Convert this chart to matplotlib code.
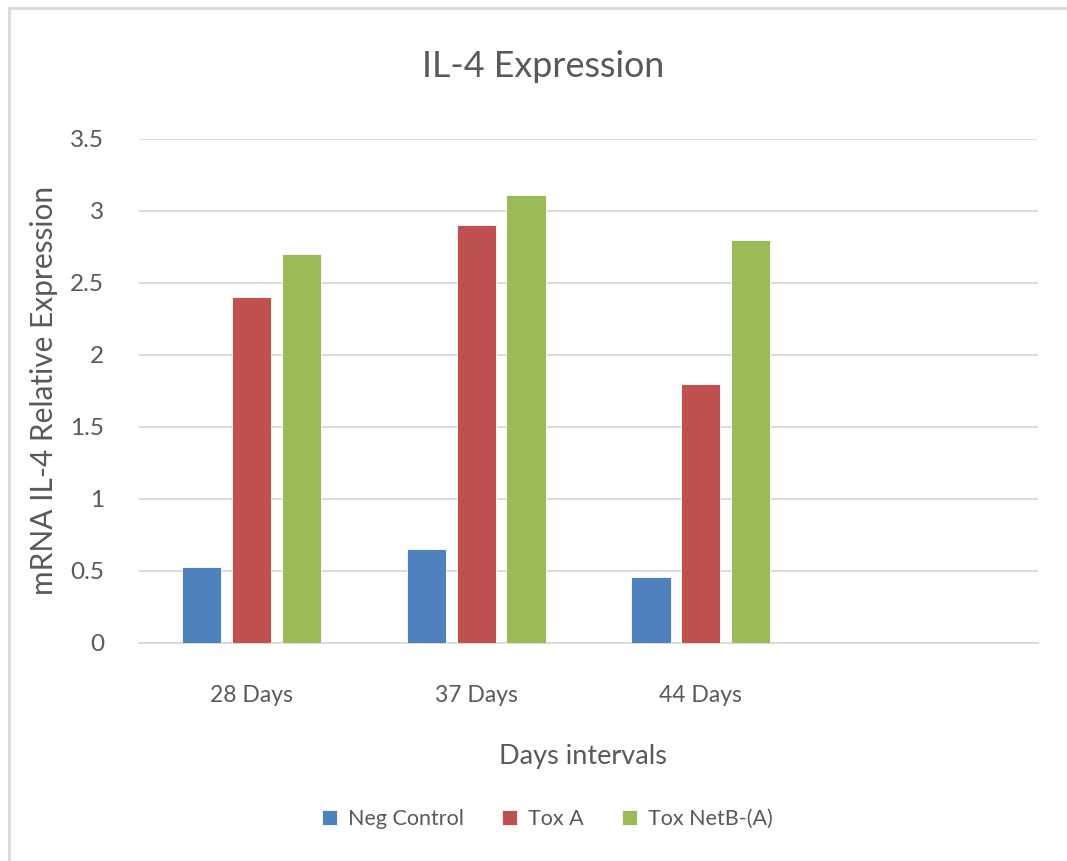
import numpy as np
import matplotlib.pyplot as plt
from matplotlib.patches import Rectangle

plt.rcParams['font.family'] = ['Lato', 'DejaVu Sans']

# data
categories = ['28 Days', '37 Days', '44 Days', '']
series_names = ['Neg Control', 'Tox A', 'Tox NetB-(A)']
neg_control = [0.53, 0.65, 0.46]
tox_a = [2.40, 2.90, 1.80]
tox_netb = [2.70, 3.11, 2.80]
yticks = [0, 0.5, 1, 1.5, 2, 2.5, 3, 3.5]
ytick_labels = ['0', '0.5', '1', '1.5', '2', '2.5', '3', '3.5']

colors = ['#4f81bd', '#c0504d', '#9bbb59']
text_col = '#595959'
grid_col = '#d9d9d9'

fig = plt.figure(figsize=(10.67, 8.61), dpi=100)
ax = fig.add_axes([0.1303, 0.2532, 0.8425, 0.5854])

x = np.arange(len(categories))
width = 0.174
step = 0.222
for i, (vals, name) in enumerate(zip([neg_control, tox_a, tox_netb], series_names)):
    pos = x[:len(vals)] + (i - 1) * step
    ax.bar(pos, vals, width, color=colors[i], label=name,
           edgecolor='white', linewidth=0.6, zorder=3)

ax.set_xlim(-0.5, len(categories) - 0.5)
ax.set_ylim(0, 3.5)
ax.set_yticks(yticks)
ax.set_yticklabels(ytick_labels, fontsize=17.5)
ax.set_xticks(x[:3])
ax.set_xticklabels(categories[:3], fontsize=16.5)
ax.tick_params(axis='both', length=0, colors=text_col)
ax.tick_params(axis='x', pad=30)
ax.tick_params(axis='y', pad=25)
ax.grid(axis='y', color=grid_col, linewidth=1.3, zorder=0)
for s in ['top', 'right', 'left']:
    ax.spines[s].set_visible(False)
ax.spines['bottom'].set_color(grid_col)
ax.spines['bottom'].set_linewidth(1.3)

fig.text(0.509, 0.923, 'IL-4 Expression', fontsize=25.8, color=text_col,
         ha='center', va='center')
fig.text(0.0415, 0.547, 'mRNA IL-4 Relative Expression', fontsize=21.5, color=text_col,
         rotation=90, ha='center', va='center')
fig.text(0.5465, 0.121, 'Days intervals', fontsize=19.5, color=text_col,
         ha='center', va='center')

leg = fig.legend(loc='center', bbox_to_anchor=(0.513, 0.049), ncol=3, frameon=False,
                 fontsize=15.5, labelcolor=text_col, handlelength=0.7, handleheight=0.7,
                 handletextpad=0.5, columnspacing=1.8)

# outer chart border (left and top edges visible)
fig.patches.append(Rectangle((9 / 1067, -0.1), 1.2, 1.1 - 8 / 861, transform=fig.transFigure,
                             fill=False, edgecolor=grid_col, linewidth=2))

fig.savefig('out.png', dpi=100, facecolor='white')
